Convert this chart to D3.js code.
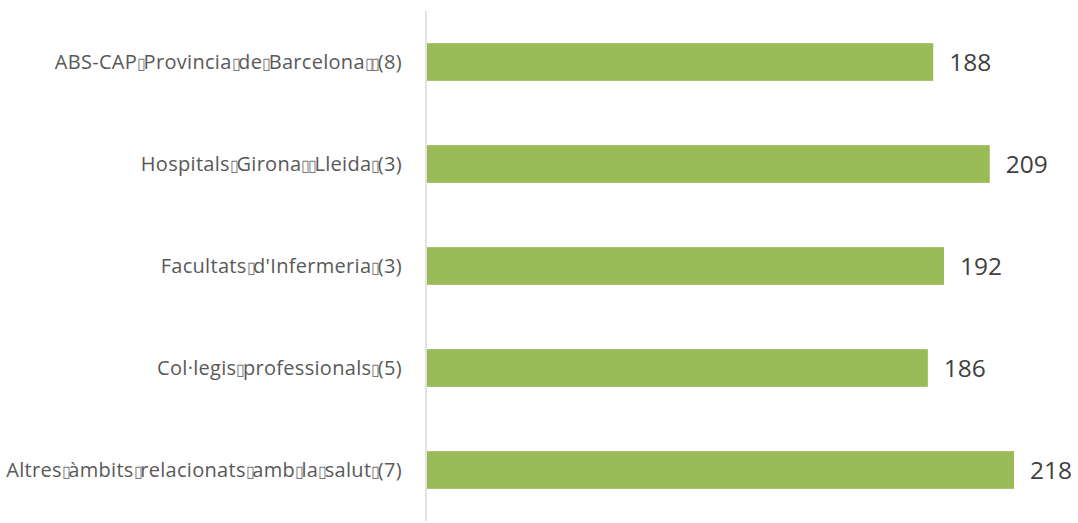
<!DOCTYPE html>
<meta charset="utf-8">
<body style="margin:0;background:#fff">
<script src="https://d3js.org/d3.v7.min.js"></script>
<script>
// '|' marks where the source shows a missing-glyph box instead of a space
var categories = [
  'ABS-CAP|Provincia|de|Barcelona||(8)',
  'Hospitals|Girona||Lleida|(3)',
  'Facultats|d\'Infermeria|(3)',
  'Col·legis|professionals|(5)',
  'Altres|àmbits|relacionats|amb|la|salut|(7)'
];
var values = [188, 209, 192, 186, 218];

var W = 1078, H = 523;
var svg = d3.select('body').append('svg').attr('width', W).attr('height', H);

var x = d3.scaleLinear().domain([0, 218]).range([427, 1014]);
var y = d3.scaleBand().domain(categories).range([11, 521]).paddingInner(0.63).paddingOuter(0.315);

svg.selectAll('rect.bar').data(values).enter().append('rect')
  .attr('class', 'bar')
  .attr('x', x(0))
  .attr('y', function(d, i) { return y(categories[i]); })
  .attr('width', function(d) { return x(d) - x(0); })
  .attr('height', y.bandwidth())
  .attr('fill', '#9bbb59');

// vertical axis line
svg.append('line')
  .attr('x1', 426).attr('x2', 426)
  .attr('y1', 11).attr('y2', 521)
  .attr('stroke', '#d9d9d9').attr('stroke-width', 1.5);

var cat = svg.selectAll('text.cat').data(categories).enter().append('text')
  .attr('class', 'cat')
  .attr('x', 402)
  .attr('y', function(d) { return y(d) + y.bandwidth() / 2; })
  .attr('dy', '0.35em')
  .attr('text-anchor', 'end')
  .attr('font-family', '"Open Sans", sans-serif')
  .attr('font-size', 20)
  .attr('letter-spacing', 0.3)
  .attr('fill', '#595959');

cat.each(function(d) {
  var t = d3.select(this);
  d.split('|').forEach(function(part, i) {
    if (i > 0) {
      t.append('tspan').attr('font-size', 16).attr('letter-spacing', -2.5)
        .attr('fill', '#777').text('\u25AF');
    }
    t.append('tspan').text(part);
  });
});

svg.selectAll('text.val').data(values).enter().append('text')
  .attr('class', 'val')
  .attr('x', function(d) { return x(d) + 16; })
  .attr('y', function(d, i) { return y(categories[i]) + y.bandwidth() / 2; })
  .attr('dy', '0.36em')
  .attr('font-family', '"Open Sans", sans-serif')
  .attr('font-size', 24.5)
  .attr('fill', '#404040')
  .text(function(d) { return d; });
</script>
</body>
